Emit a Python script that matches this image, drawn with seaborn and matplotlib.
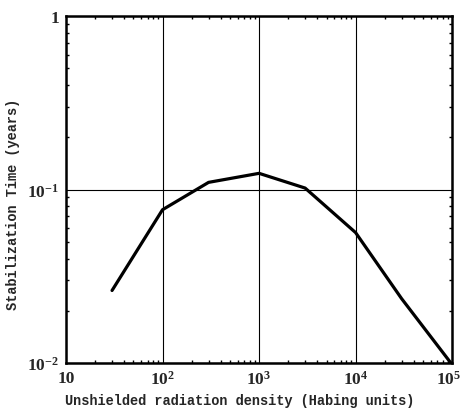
import matplotlib
matplotlib.use("Agg")
import matplotlib.pyplot as plt
import matplotlib.ticker as mticker
import matplotlib.transforms as mtransforms
import numpy as np
import pandas as pd
import seaborn as sns

# radiation density (Habing units) vs stabilization time (years)
density = [30, 100, 300, 1000, 3000, 10000, 30000, 100000]
stab_time = [0.0262, 0.0765, 0.110, 0.124, 0.102, 0.0565, 0.0235, 0.0098]

xticks = [10, 100, 1000, 10000, 100000]
xticklabels = ["10", "$10^2$", "$10^3$", "$10^4$", "$10^5$"]
yticks = [0.01, 0.1, 1]
yticklabels = ["$10^{-2}$", "$10^{-1}$", "1"]

sns.set_style("ticks")
plt.rcParams["mathtext.fontset"] = "custom"
plt.rcParams["mathtext.rm"] = "Liberation Serif:bold"
plt.rcParams["mathtext.default"] = "rm"

df = pd.DataFrame({"x": density, "y": stab_time})

fig = plt.figure(figsize=(4.63, 4.10), dpi=100)
ax = fig.add_axes([0.1425, 0.112, 0.834, 0.8465])
sns.lineplot(data=df, x="x", y="y", color="black", linewidth=2.3, ax=ax)

ax.set_xscale("log")
ax.set_yscale("log")
ax.set_xlim(10, 1e5)
ax.set_ylim(0.01, 1)

ax.set_xticks(xticks)
ax.set_xticklabels(xticklabels)
ax.set_yticks(yticks)
ax.set_yticklabels(yticklabels)
ax.xaxis.set_minor_locator(mticker.LogLocator(base=10, subs=np.arange(2, 10)))
ax.yaxis.set_minor_locator(mticker.LogLocator(base=10, subs=np.arange(2, 10)))
ax.xaxis.set_minor_formatter(mticker.NullFormatter())
ax.yaxis.set_minor_formatter(mticker.NullFormatter())

ax.tick_params(which="both", direction="in", top=True, right=True, color="black")
ax.tick_params(which="major", length=0, labelsize=12.5, pad=5)
ax.tick_params(which="minor", length=2.5, width=1)
for lab in ax.get_xticklabels() + ax.get_yticklabels():
    lab.set_fontfamily("Liberation Serif")
    lab.set_fontweight("bold")

# nudge the last x label so it stays inside the figure
last = ax.get_xticklabels()[-1]
last.set_transform(last.get_transform() + mtransforms.ScaledTranslation(-4 / 100, 0, fig.dpi_scale_trans))

ax.grid(True, which="major", color="black", linewidth=0.8)
for s in ax.spines.values():
    s.set_linewidth(1.8)
    s.set_color("black")

ax.set_xlabel("Unshielded radiation density (Habing units)", fontfamily="Liberation Mono",
              fontweight="bold", fontsize=9.8)
ax.set_ylabel("Stabilization Time (years)", fontfamily="Liberation Mono",
              fontweight="bold", fontsize=9.8)
ax.xaxis.set_label_coords(0.45, -0.085)
ax.yaxis.set_label_coords(-0.12, 0.46)

fig.savefig("out.png", dpi=100)
